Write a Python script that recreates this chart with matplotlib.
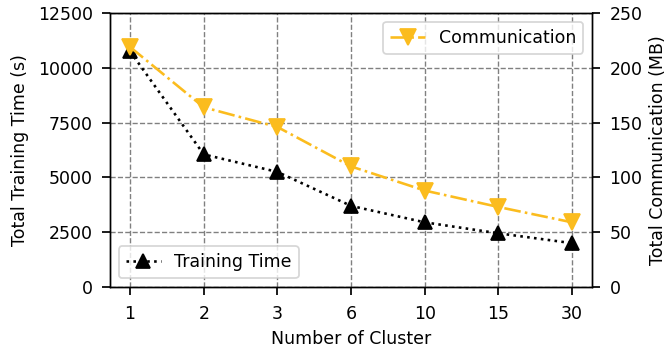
import matplotlib
matplotlib.use("Agg")
import matplotlib.pyplot as plt
import numpy as np

clusters = ["1", "2", "3", "6", "10", "15", "30"]
training_time = [10750, 6050, 5250, 3700, 2950, 2450, 2000]
communication = [219, 164, 146, 110, 88, 73, 59]

plt.rcParams["font.family"] = "DejaVu Sans"
plt.rcParams["font.size"] = 10

DPI = 125
fig = plt.figure(figsize=(672 / DPI, 353 / DPI), dpi=DPI)
ax = fig.add_axes([0.164, 0.187, 0.717, 0.776])
x = np.arange(len(clusters))

ax.plot(x, training_time, linestyle=":", color="black", marker="^",
        markersize=8, linewidth=1.5, label="Training Time")
ax.set_ylim(0, 12500)
ax.set_yticks([0, 2500, 5000, 7500, 10000, 12500])
ax.set_xticks(x)
ax.set_xticklabels(clusters)
ax.set_xlim(-0.27, len(clusters) - 1 + 0.27)
ax.set_xlabel("Number of Cluster", labelpad=4.5)
ax.set_ylabel("Total Training Time (s)", labelpad=5)
ax.tick_params(length=4.6, width=1.0, pad=5.5)
ax.grid(True, linestyle="--", color="gray", linewidth=0.8)
ax.legend(loc="lower left")

ax2 = ax.twinx()
ax2.plot(x, communication, linestyle="-.", color="#FBBC1E", marker="v",
         markersize=9, linewidth=1.5, label="Communication")
ax2.set_ylim(0, 250)
ax2.set_yticks([0, 50, 100, 150, 200, 250])
ax2.set_ylabel("Total Communication (MB)", labelpad=3.5)
ax2.tick_params(length=4.6, width=1.0, pad=5.5)
ax2.legend(loc="upper right")

fig.savefig("out.png", dpi=DPI)
